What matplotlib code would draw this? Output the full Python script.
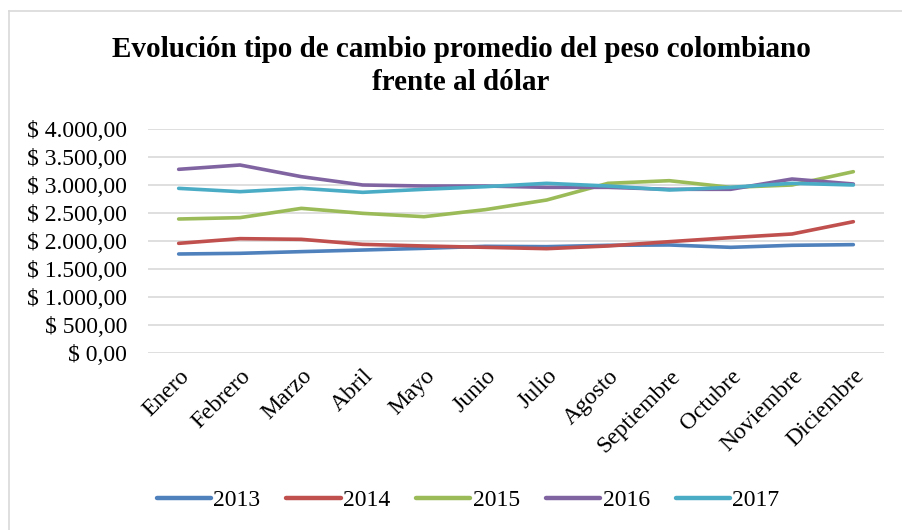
import matplotlib
matplotlib.use("Agg")
import matplotlib.pyplot as plt
from matplotlib.lines import Line2D

plt.rcParams['font.family'] = ['Liberation Serif', 'DejaVu Serif']

months = ["Enero", "Febrero", "Marzo", "Abril", "Mayo", "Junio", "Julio",
          "Agosto", "Septiembre", "Octubre", "Noviembre", "Diciembre"]
y2013 = [1768, 1780, 1810, 1839, 1869, 1905, 1899, 1923, 1929, 1887, 1923, 1935]
y2014 = [1958, 2042, 2030, 1940, 1911, 1887, 1863, 1911, 1988, 2060, 2125, 2345]
y2015 = [2393, 2417, 2583, 2494, 2434, 2560, 2732, 3030, 3077, 2958, 3000, 3238]
y2016 = [3280, 3357, 3149, 3000, 2982, 2982, 2958, 2958, 2923, 2923, 3107, 3018]
y2017 = [2940, 2881, 2940, 2869, 2923, 2970, 3030, 2982, 2911, 2958, 3030, 3000]
series = [("2013", y2013, "#4F81BD"), ("2014", y2014, "#C0504D"),
          ("2015", y2015, "#9BBB59"), ("2016", y2016, "#8064A2"),
          ("2017", y2017, "#4BACC6")]
yticks = [0, 500, 1000, 1500, 2000, 2500, 3000, 3500, 4000]
ytick_labels = ["$ 0,00", "$ 500,00", "$ 1.000,00", "$ 1.500,00", "$ 2.000,00",
                "$ 2.500,00", "$ 3.000,00", "$ 3.500,00", "$ 4.000,00"]

W, H = 902, 530
fig = plt.figure(figsize=(W / 100, H / 100), dpi=100)
ax = fig.add_axes([148 / W, 1 - 353 / H, (884 - 148) / W, (353 - 129) / H])

x = list(range(len(months)))
for name, vals, col in series:
    ax.plot(x, vals, color=col, lw=2.6, solid_capstyle='round', label=name)

ax.set_xlim(-0.5, 11.5)
ax.set_ylim(0, 4000)
ax.set_yticks(yticks)
ax.set_yticklabels(ytick_labels, fontsize=17)
ax.set_xticks(x)
ax.set_xticklabels(months, fontsize=17, rotation=45, ha='right',
                   rotation_mode='anchor', va='top')
ax.tick_params(axis='y', length=0, pad=15)
ax.tick_params(axis='x', length=0, pad=9)
ax.grid(axis='y', color='#D9D9D9', lw=1.2)
ax.set_axisbelow(True)
for s in ax.spines.values():
    s.set_visible(False)

fig.text(461 / W, 1 - 66 / H, "Evolución tipo de cambio promedio del peso colombiano\nfrente al dólar",
         ha='center', va='center', fontsize=21, fontweight='bold', linespacing=1.3)

handles = [Line2D([0], [0], color=c, lw=3.2, solid_capstyle='round') for _, _, c in series]
fig.legend(handles, [n for n, _, _ in series], loc='center', bbox_to_anchor=(468 / W, 1 - 500 / H),
           ncol=5, frameon=False, fontsize=17, handlelength=2.3, handletextpad=0.1,
           columnspacing=1.1)

# chart border (left & top visible)
fig.add_artist(Line2D([8.5 / W, 8.5 / W], [0, 1 - 10.5 / H], color='#D9D9D9', lw=1.2))
fig.add_artist(Line2D([8.5 / W, 1], [1 - 10.5 / H, 1 - 10.5 / H], color='#D9D9D9', lw=1.2))

fig.savefig("out.png", dpi=100)
